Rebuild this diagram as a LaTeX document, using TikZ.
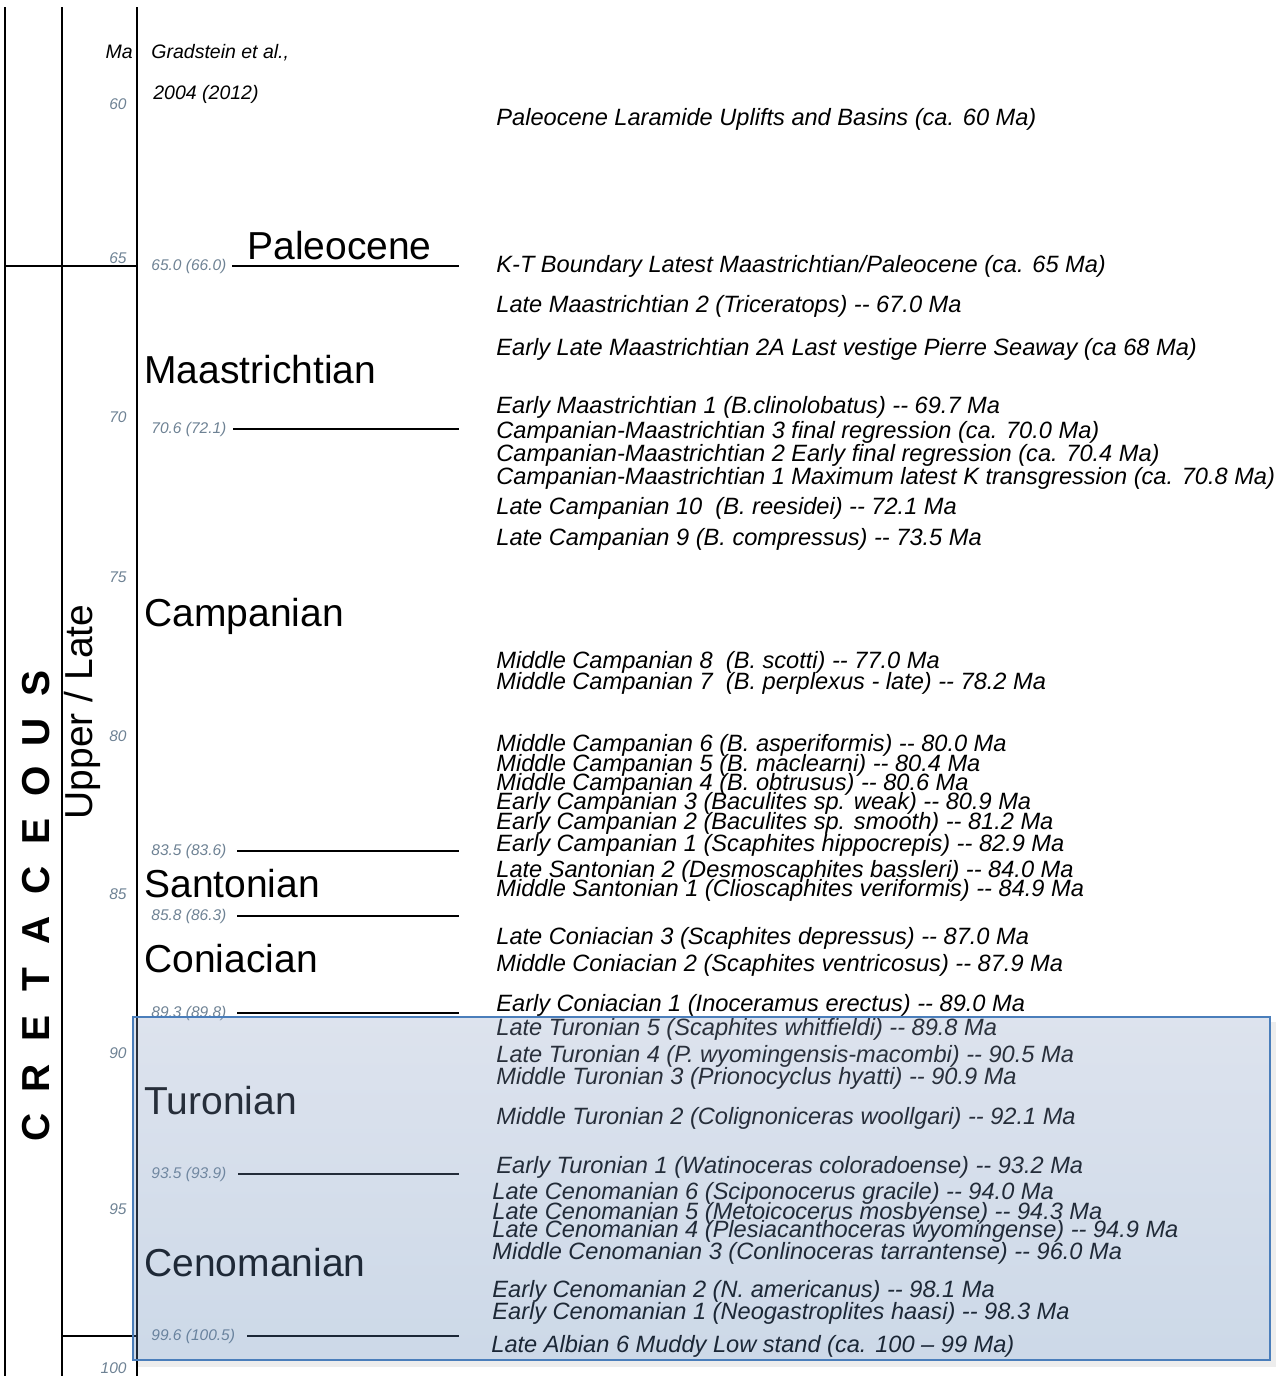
\documentclass[tikz,border=0pt]{standalone}
\usepackage{fontspec}
\setmainfont{Liberation Sans}[Ligatures=TeXOff]
\definecolor{tickgray}{HTML}{6E8294}
\definecolor{boxblue}{HTML}{4A7EBB}
\definecolor{boxtop}{RGB}{142,162,198}
\definecolor{boxbot}{RGB}{88,128,178}

\tikzset{
  chartline/.style={line width=1pt},
  ticklabel/.style={anchor=east, inner sep=0pt, text=tickgray, font=\fontsize{7.75}{9}\selectfont\itshape},
  bndlabel/.style={anchor=west, inner sep=0pt, text=tickgray, font=\fontsize{7.75}{9}\selectfont\itshape},
  srclabel/.style={inner sep=0pt, font=\fontsize{9.75}{11}\selectfont\itshape},
  stagename/.style={anchor=base west, inner sep=0pt, font=\fontsize{19.5}{22}\selectfont},
  eventlabel/.style={anchor=base west, inner sep=0pt, font=\fontsize{11.8}{13}\selectfont\itshape},
}

\begin{document}
\begin{tikzpicture}[x=0.5pt, y=-0.5pt]
\useasboundingbox (0,0) rectangle (1287,1376);

% column frame
\draw[chartline] (5,7) -- (5,1376);
\draw[chartline] (62,7) -- (62,1376);
\draw[chartline] (137,7) -- (137,1376);
\draw[chartline] (5,266) -- (137,266);
\draw[chartline] (62,1336) -- (137,1336);

% system and series
\foreach \l [count=\i] in {S,U,O,E,C,A,T,E,R,C}
  \node[rotate=90, inner sep=0pt, font=\fontsize{19.5}{22}\selectfont\bfseries] (cret\i) at (36,{683+(\i-1)*49.4}) {\l};
\node[rotate=90, inner sep=0pt, font=\fontsize{19.5}{22}\selectfont] (series) at (82,712) {Upper / Late};

% age scale
\node[srclabel, anchor=east] (ma) at (133,52) {Ma};
\node[srclabel, anchor=west] (src1) at (151,53) {Gradstein et al.,};
\node[srclabel, anchor=west] (src2) at (153,94) {2004 (2012)};
\foreach \t/\y in {60/104, 65/258, 70/417, 75/577, 80/736, 85/894, 90/1053, 95/1209, 100/1368}
  \node[ticklabel] (tick\t) at (127,\y) {\t};

% stage boundaries
\foreach \y/\lab/\xs [count=\i] in {266/65.0 (66.0)/232, 429/70.6 (72.1)/233, 851/83.5 (83.6)/237,
    916/85.8 (86.3)/237, 1013/89.3 (89.8)/237, 1174/93.5 (93.9)/238, 1336/99.6 (100.5)/247}
{
  \node[bndlabel] (bnd\i) at (151,\y) {\lab};
  \draw[chartline] (\xs,\y) -- (459,\y);
}

% stages
\node[stagename] (paleo) at (247,259) {Paleocene};
\node[stagename] (maas) at (144,383) {Maastrichtian};
\node[stagename] (camp) at (144,626) {Campanian};
\node[stagename] (sant) at (144,897) {Santonian};
\node[stagename] (coni) at (144,972) {Coniacian};
\node[stagename] (turo) at (144,1114) {Turonian};
\node[stagename] (ceno) at (144,1276) {Cenomanian};

% events
\foreach \x/\y/\t [count=\i] in {
  496/117/{Paleocene Laramide Uplifts and Basins (ca. 60 Ma)},
  496/264/{K-T Boundary Latest Maastrichtian/Paleocene (ca. 65 Ma)},
  496/304/{Late Maastrichtian 2 (Triceratops) -- 67.0 Ma},
  496/347/{Early Late Maastrichtian 2A Last vestige Pierre Seaway (ca 68 Ma)},
  496/405/{Early Maastrichtian 1 (B.clinolobatus) -- 69.7 Ma},
  496/430/{Campanian-Maastrichtian 3 final regression (ca. 70.0 Ma)},
  496/453/{Campanian-Maastrichtian 2 Early final regression (ca. 70.4 Ma)},
  496/476/{Campanian-Maastrichtian 1 Maximum latest K transgression (ca. 70.8 Ma)},
  496/506/{Late Campanian 10 \ (B. reesidei) -- 72.1 Ma},
  496/537/{Late Campanian 9 (B. compressus) -- 73.5 Ma},
  496/660/{Middle Campanian 8 \ (B. scotti) -- 77.0 Ma},
  496/681/{Middle Campanian 7 \ (B. perplexus - late) -- 78.2 Ma},
  496/743/{Middle Campanian 6 (B. asperiformis) -- 80.0 Ma},
  496/763/{Middle Campanian 5 (B. maclearni) -- 80.4 Ma},
  496/782/{Middle Campanian 4 (B. obtrusus) -- 80.6 Ma},
  496/801/{Early Campanian 3 (Baculites sp. weak) -- 80.9 Ma},
  496/821/{Early Campanian 2 (Baculites sp. smooth) -- 81.2 Ma},
  496/843/{Early Campanian 1 (Scaphites hippocrepis) -- 82.9 Ma},
  496/869/{Late Santonian 2 (Desmoscaphites bassleri) -- 84.0 Ma},
  496/888/{Middle Santonian 1 (Clioscaphites veriformis) -- 84.9 Ma},
  496/936/{Late Coniacian 3 (Scaphites depressus) -- 87.0 Ma},
  496/963/{Middle Coniacian 2 (Scaphites ventricosus) -- 87.9 Ma},
  496/1003/{Early Coniacian 1 (Inoceramus erectus) -- 89.0 Ma},
  496/1027/{Late Turonian 5 (Scaphites whitfieldi) -- 89.8 Ma},
  496/1054/{Late Turonian 4 (P. wyomingensis-macombi) -- 90.5 Ma},
  496/1076/{Middle Turonian 3 (Prionocyclus hyatti) -- 90.9 Ma},
  496/1116/{Middle Turonian 2 (Colignoniceras woollgari) -- 92.1 Ma},
  496/1165/{Early Turonian 1 (Watinoceras coloradoense) -- 93.2 Ma},
  492/1191/{Late Cenomanian 6 (Sciponocerus gracile) -- 94.0 Ma},
  492/1211/{Late Cenomanian 5 (Metoicocerus mosbyense) -- 94.3 Ma},
  492/1229/{Late Cenomanian 4 (Plesiacanthoceras wyomingense) -- 94.9 Ma},
  492/1251/{Middle Cenomanian 3 (Conlinoceras tarrantense) -- 96.0 Ma},
  492/1289/{Early Cenomanian 2 (N. americanus) -- 98.1 Ma},
  492/1311/{Early Cenomanian 1 (Neogastroplites haasi) -- 98.3 Ma},
  491/1344/{Late Albian 6 Muddy Low stand (ca. 100 – 99 Ma)}}
  \node[eventlabel] (ev\i) at (\x,\y+8) {\t};

% highlight box
\fill[black, opacity=0.07] (138,1360) rectangle (1276,1367);
\fill[black, opacity=0.07] (1270,1022) rectangle (1276,1360);
\shade[top color=boxtop, bottom color=boxbot, fill opacity=0.3] (133,1017) rectangle (1270,1360);
\draw[boxblue, line width=1pt] (133,1017) rectangle (1270,1360);
\end{tikzpicture}
\end{document}
